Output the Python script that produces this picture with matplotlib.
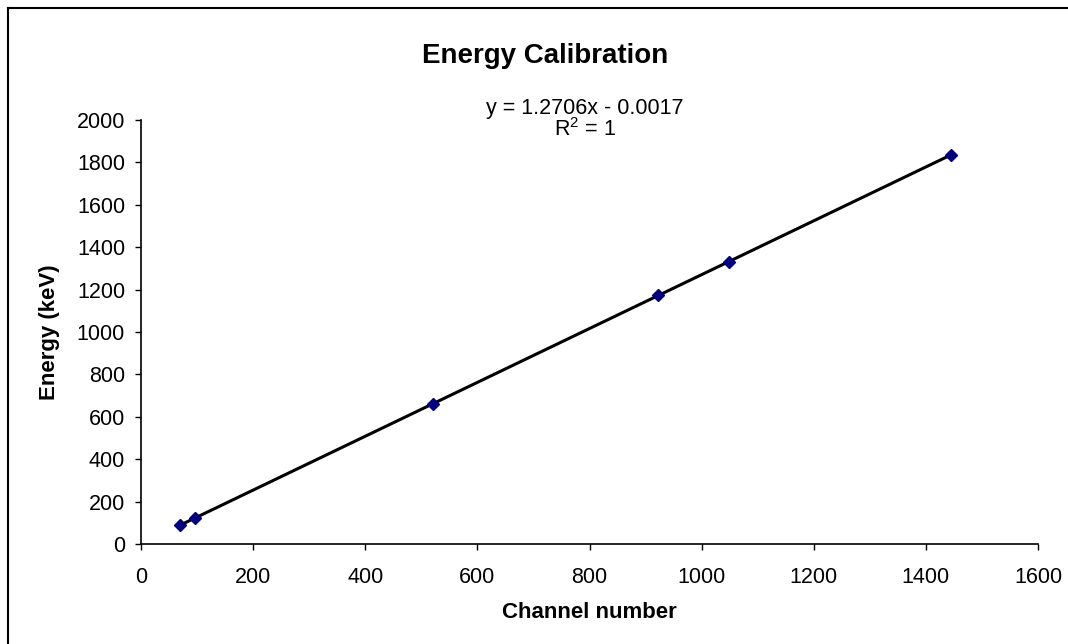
import numpy as np
import matplotlib
matplotlib.use("Agg")
import matplotlib.pyplot as plt
from matplotlib.lines import Line2D

plt.rcParams['font.family'] = ['Liberation Sans', 'DejaVu Sans']
plt.rcParams['mathtext.fontset'] = 'custom'
plt.rcParams['mathtext.rm'] = 'Liberation Sans'

# calibration points
channel = [69, 96, 521, 923, 1049, 1445]
energy = [88, 122, 662, 1173, 1332, 1836]
x_ticks = list(range(0, 1601, 200))
y_ticks = list(range(0, 2001, 200))
fit_label = "y = 1.2706x - 0.0017"
r2_label = r"R$^{2}$ = 1"

fig = plt.figure(figsize=(10.68, 6.44), dpi=100)
ax = fig.add_axes([141 / 1068, 100 / 644, 897 / 1068, 424 / 644])

# linear trendline over the data range
slope, intercept = np.polyfit(channel, energy, 1)
xs = np.array([min(channel), max(channel)])
ax.plot(xs, slope * xs + intercept, color='black', lw=2.2, zorder=2)
ax.plot(channel, energy, linestyle='none', marker='D', markersize=6.5,
        color='#000080', markeredgecolor='#000080', zorder=3)

ax.set_xlim(0, 1600)
ax.set_ylim(0, 2000)
ax.set_xticks(x_ticks)
ax.set_yticks(y_ticks)
ax.tick_params(axis='both', direction='out', length=4.5, width=1, labelsize=15.5, colors='black')
ax.tick_params(axis='x', pad=12)
ax.tick_params(axis='y', pad=7)
for side in ['top', 'right']:
    ax.spines[side].set_visible(False)
for side in ['left', 'bottom']:
    ax.spines[side].set_linewidth(1.2)

ax.set_xlabel('Channel number', fontsize=16, fontweight='bold', labelpad=10)
ax.set_ylabel('Energy (keV)', fontsize=16, fontweight='bold', labelpad=12)

fig.text(545 / 1068, 1 - 63 / 644, 'Energy Calibration', fontsize=20, fontweight='bold',
         ha='center', va='baseline')
fig.text(585 / 1068, 1 - 114 / 644, fit_label, fontsize=15.5, ha='center', va='baseline')
fig.text(585 / 1068, 1 - 136 / 644, r2_label, fontsize=15.5, ha='center', va='baseline')

# chart area border (only left and top edges are inside the picture)
fig.add_artist(Line2D([8 / 1068, 8 / 1068], [0, 1 - 8 / 644], color='black', lw=1.5,
                      transform=fig.transFigure))
fig.add_artist(Line2D([8 / 1068, 1], [1 - 8 / 644, 1 - 8 / 644], color='black', lw=1.5,
                      transform=fig.transFigure))

fig.savefig('out.png', dpi=100)
